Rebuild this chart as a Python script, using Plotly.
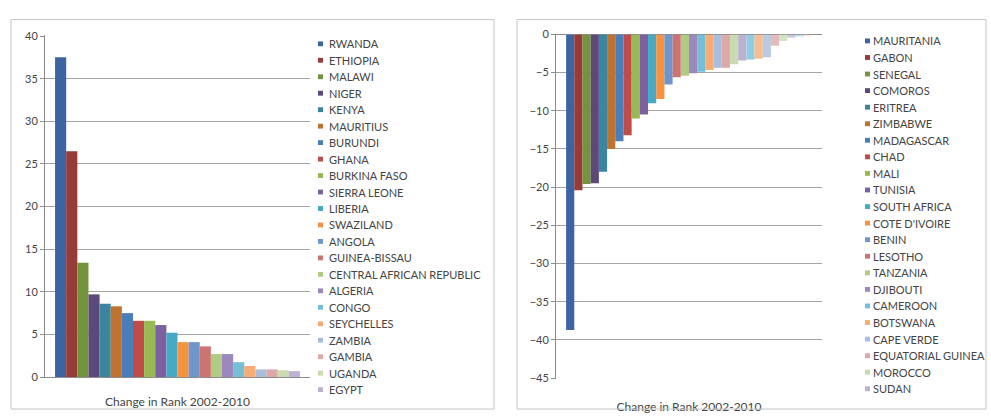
import plotly.graph_objects as go

W, H = 991, 416
category = "Change in Rank 2002-2010"

# ---------------- data ----------------
gain_countries = ["RWANDA", "ETHIOPIA", "MALAWI", "NIGER", "KENYA", "MAURITIUS",
                  "BURUNDI", "GHANA", "BURKINA FASO", "SIERRA LEONE", "LIBERIA",
                  "SWAZILAND", "ANGOLA", "GUINEA-BISSAU", "CENTRAL AFRICAN REPUBLIC",
                  "ALGERIA", "CONGO", "SEYCHELLES", "ZAMBIA", "GAMBIA", "UGANDA", "EGYPT"]
gain_values = [37.5, 26.5, 13.4, 9.7, 8.6, 8.3, 7.5, 6.6, 6.6, 6.1, 5.2,
               4.1, 4.1, 3.6, 2.7, 2.7, 1.75, 1.3, 0.9, 0.9, 0.8, 0.7]

decline_countries = ["MAURITANIA", "GABON", "SENEGAL", "COMOROS", "ERITREA", "ZIMBABWE",
                     "MADAGASCAR", "CHAD", "MALI", "TUNISIA", "SOUTH AFRICA",
                     "COTE D'IVOIRE", "BENIN", "LESOTHO", "TANZANIA", "DJIBOUTI",
                     "CAMEROON", "BOTSWANA", "CAPE VERDE", "EQUATORIAL GUINEA",
                     "MOROCCO", "SUDAN"]
# the chart holds more bars than its (truncated) legend lists
decline_values = [-38.7, -20.4, -19.6, -19.5, -18.0, -15.0, -14.0, -13.2, -11.0, -10.5,
                  -9.0, -8.45, -6.55, -5.6, -5.4, -5.1, -4.9, -4.65, -4.35, -4.35,
                  -3.9, -3.4, -3.3, -3.2, -3.0, -1.5, -0.85, -0.4, -0.2, -0.1]

gain_ticks = list(range(0, 41, 5))
decline_ticks = list(range(-45, 1, 5))

# ---------------- style ----------------
palette = [
    "#3C64A0", "#963B38", "#74933F", "#5C4879", "#3A85A0", "#C0732F",
    "#4A7EBB", "#C04B48", "#98B954", "#7D60A0", "#46AAC5", "#F69240",
    "#6F96CC", "#CD7472", "#B0CB82", "#9C88BC", "#72BFD6", "#F8AB74",
    "#A9BEDC", "#DDA9A8", "#CBDBB0", "#BDB1D2", "#8FCDE0", "#F9BD92",
    "#B9CBE3", "#E4BCBB", "#D6E3C2", "#CBC2DB", "#BDDFEA", "#FBD2B4",
]
FONT = "Lato, 'Open Sans', sans-serif"
TXT = "#444444"
GRID = "#A3A3A3"
AXIS = "#8C8C8C"

fig = go.Figure()

for i, (name, v) in enumerate(zip(gain_countries, gain_values)):
    fig.add_trace(go.Bar(x=[category], y=[v], name=name, marker_color=palette[i],
                         marker_line_width=0, xaxis="x", yaxis="y", showlegend=False))

for i, v in enumerate(decline_values):
    name = decline_countries[i] if i < len(decline_countries) else ""
    fig.add_trace(go.Bar(x=[category], y=[v], name=name, marker_color=palette[i],
                         marker_line_width=0, xaxis="x2", yaxis="y2", showlegend=False))


def px_x(x):
    return x / W


def px_y(y):
    return 1 - y / H


shapes = []
annotations = []

# chart-area frames
for x0, x1 in [(11, 494), (517, 986)]:
    shapes.append(dict(type="rect", xref="paper", yref="paper",
                       x0=px_x(x0), x1=px_x(x1), y0=px_y(415), y1=px_y(13),
                       line=dict(color="#C4C4C4", width=1), fillcolor="rgba(0,0,0,0)"))


def add_legend(names, sq_x, txt_x, y_first, dy):
    for i, name in enumerate(names):
        yc = y_first + i * dy
        shapes.append(dict(type="rect", xref="paper", yref="paper",
                           x0=px_x(sq_x - 2.5), x1=px_x(sq_x + 2.5),
                           y0=px_y(yc + 2.5), y1=px_y(yc - 2.5),
                           fillcolor=palette[i], line=dict(width=0)))
        annotations.append(dict(xref="paper", yref="paper", x=px_x(txt_x), y=px_y(yc),
                                xanchor="left", yanchor="middle", showarrow=False,
                                xshift=-2, text=name,
                                font=dict(family=FONT, size=11, color=TXT)))


add_legend(gain_countries, 320.5, 329, 38, 17.0)
add_legend(decline_countries, 867.5, 873, 35, 17.1)

fig.update_layout(
    width=W, height=H,
    margin=dict(l=0, r=0, t=0, b=0),
    paper_bgcolor="white", plot_bgcolor="white",
    barmode="group",
    font=dict(family=FONT, size=11, color=TXT),
    shapes=shapes, annotations=annotations,
    xaxis=dict(domain=[px_x(45), px_x(310)], anchor="y", type="category",
               showline=True, linecolor=AXIS, ticks="", showgrid=False,
               tickfont=dict(size=12, color=TXT), ticklabelstandoff=14),
    yaxis=dict(domain=[px_y(382), px_y(29.3)], anchor="x", range=[0, 40.08],
               tickvals=gain_ticks, showgrid=True, gridcolor=GRID,
               gridwidth=1, showline=True, linecolor=AXIS, ticks="outside", ticklen=4,
               tickcolor=AXIS, zeroline=False,
               tickfont=dict(size=11, color=TXT)),
    xaxis2=dict(domain=[px_x(556), px_x(822)], anchor="y2", type="category",
                showline=False, ticks="", showgrid=False,
                tickfont=dict(size=12, color=TXT), ticklabelstandoff=19),
    yaxis2=dict(domain=[px_y(383.6), px_y(28.3)], anchor="x2", range=[-45.08, 0],
                tickvals=decline_ticks, showgrid=True, gridcolor=GRID,
                gridwidth=1, showline=True, linecolor=AXIS, ticks="outside", ticklen=4,
                tickcolor=AXIS, zeroline=True, zerolinecolor=AXIS,
                zerolinewidth=1, tickfont=dict(size=11, color=TXT)),
    bargap=0.076,
    bargroupgap=0,
)

fig.write_html("out.html")
